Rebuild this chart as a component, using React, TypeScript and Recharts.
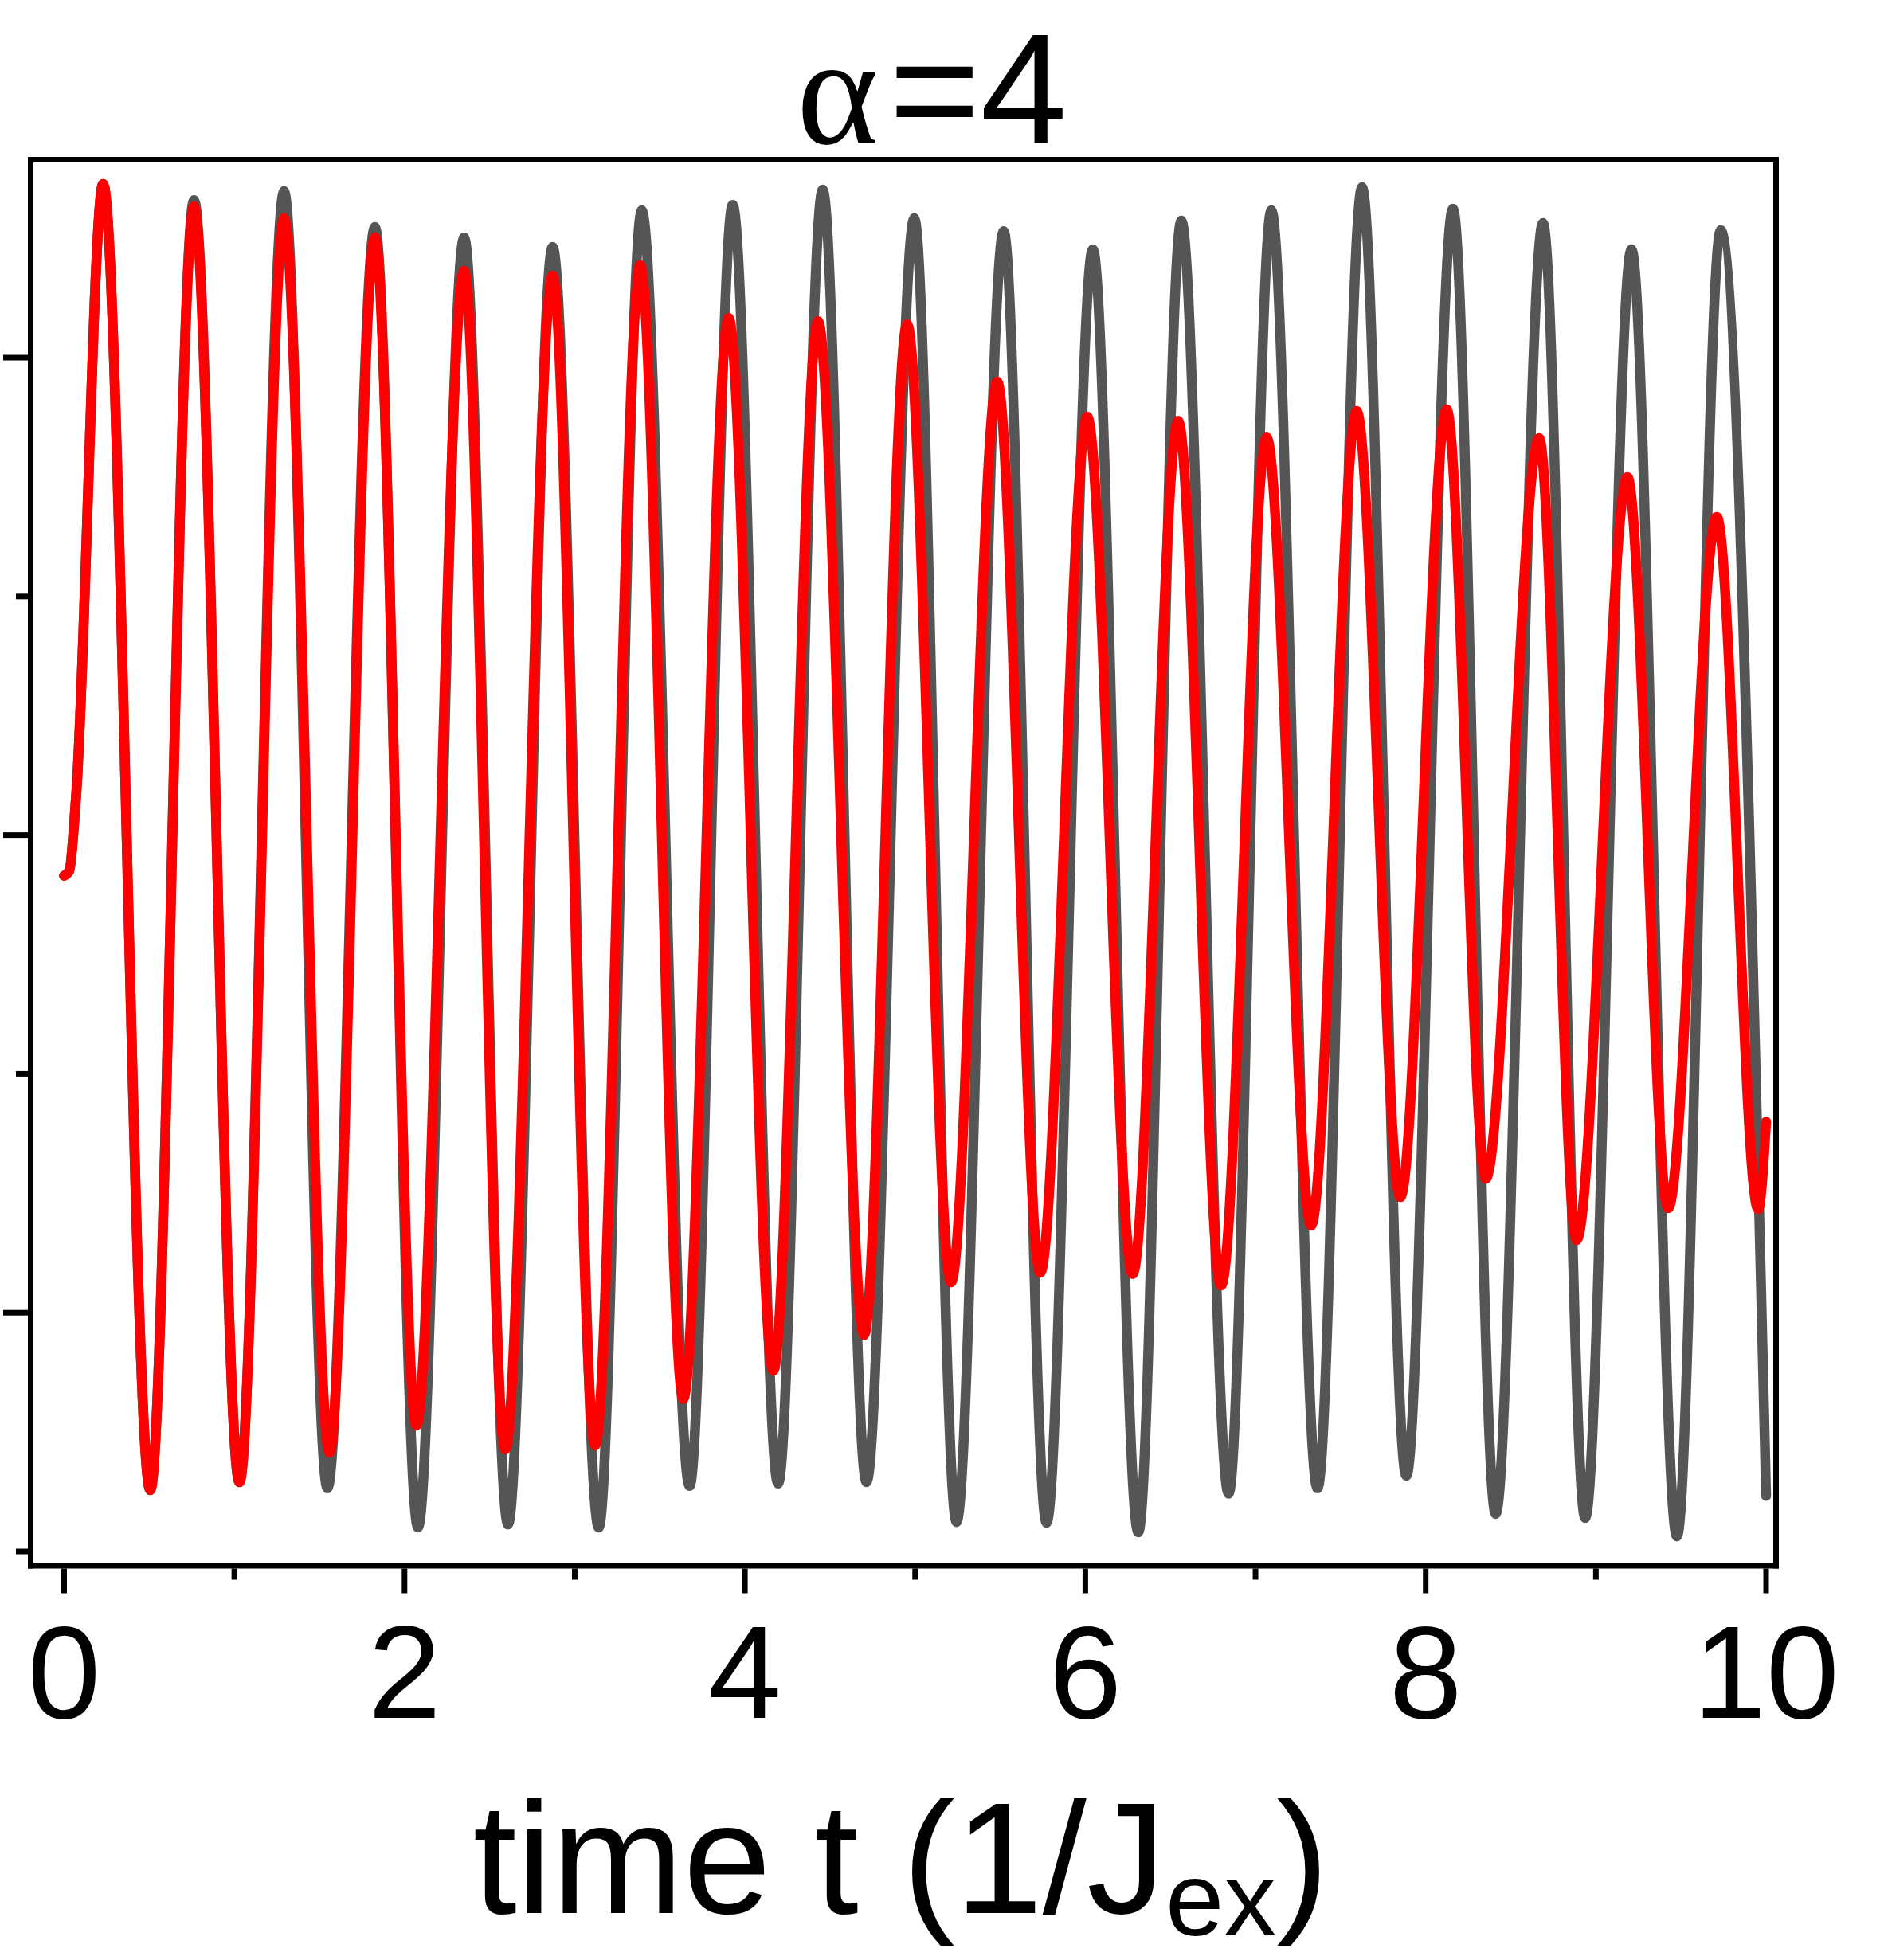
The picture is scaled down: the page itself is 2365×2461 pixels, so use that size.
import { Line, LineChart, XAxis, YAxis } from "recharts";

// shared start of both curves (they coincide until the first peak)
const startTimes = [0, 0.03, 0.07];
const startValues = [2.83, 2.85, 3.16];

// gray curve: alternating peaks / troughs
const grayTimes = [
  0.229, 0.506, 0.763, 1.03, 1.292, 1.547, 1.826, 2.079, 2.35, 2.608, 2.87, 3.141,
  3.394, 3.675, 3.928, 4.195, 4.457, 4.714, 4.995, 5.243, 5.52, 5.772, 6.044, 6.311,
  6.564, 6.842, 7.093, 7.364, 7.626, 7.886, 8.16, 8.411, 8.689, 8.937, 9.209, 9.476,
  9.733, 10.0,
];
const grayValues = [
  5.727, 0.257, 5.66, 0.29, 5.697, 0.264, 5.547, 0.1, 5.504, 0.113, 5.464, 0.1,
  5.617, 0.274, 5.64, 0.284, 5.704, 0.29, 5.584, 0.123, 5.53, 0.12, 5.454, 0.08,
  5.574, 0.242, 5.617, 0.264, 5.714, 0.317, 5.624, 0.157, 5.564, 0.14, 5.454, 0.063,
  5.534, 0.233,
];

// red curve
const redTimes = [
  0.229, 0.506, 0.763, 1.03, 1.292, 1.559, 1.826, 2.069, 2.35, 2.591, 2.87, 3.12,
  3.385, 3.638, 3.904, 4.167, 4.429, 4.7, 4.953, 5.211, 5.482, 5.735, 6.011, 6.278,
  6.545, 6.798, 7.065, 7.327, 7.594, 7.851, 8.123, 8.352, 8.666, 8.886, 9.185, 9.424,
  9.71, 9.953, 10.0,
];
const redValues = [
  5.727, 0.257, 5.634, 0.29, 5.584, 0.414, 5.504, 0.527, 5.364, 0.427, 5.344, 0.444,
  5.387, 0.639, 5.167, 0.757, 5.153, 0.907, 5.14, 1.127, 4.9, 1.167, 4.753, 1.162,
  4.736, 1.114, 4.666, 1.366, 4.777, 1.484, 4.783, 1.561, 4.663, 1.304, 4.5, 1.438,
  4.333, 1.434, 1.8,
];

const xTicks = [0, 1, 2, 3, 4, 5, 6, 7, 8, 9, 10];
const xLabelTicks = [0, 2, 4, 6, 8, 10];
const yTicks = [0, 1, 2, 3, 4, 5];
const yMajorTicks = [1, 3, 5];

const toPoints = (ts: number[], vs: number[]) => ts.map((t, i) => ({ t, v: vs[i] }));

const grayData = toPoints([...startTimes, ...grayTimes], [...startValues, ...grayValues]);
const redData = toPoints([...startTimes, ...redTimes], [...startValues, ...redValues]);

const SANS = "'Liberation Sans', Arial, sans-serif";
const AXIS = { stroke: "#000", strokeWidth: 7, strokeLinecap: "square" as const };

function XTick(props: any) {
  const { x, y, payload } = props;
  const major = xLabelTicks.includes(payload.value);
  return (
    <g>
      <line x1={x} x2={x} y1={y + 3.5} y2={y + 3.5 + (major ? 31 : 14)} stroke="#000" strokeWidth={7} />
      {major ? (
        <text x={x} y={y + 191} textAnchor="middle" fontSize={165} fontFamily={SANS} fill="#000">
          {payload.value}
        </text>
      ) : null}
    </g>
  );
}

function YTick(props: any) {
  const { x, y, payload } = props;
  const major = yMajorTicks.includes(payload.value);
  return (
    <line x1={x - 3.5} x2={x - 3.5 - (major ? 31 : 15)} y1={y} y2={y} stroke="#000" strokeWidth={7} />
  );
}

export default function App() {
  return (
    <div style={{ position: "absolute", left: 0, top: 0, background: "#fff" }}>
      <LineChart
        width={2365}
        height={2461}
        margin={{ top: 199.5, right: 134.5, bottom: 494, left: 37.5 }}
      >
        <XAxis
          xAxisId="bottom"
          type="number"
          dataKey="t"
          domain={[-0.1966, 10.0585]}
          allowDataOverflow
          ticks={xTicks}
          interval={0}
          height={1}
          tickSize={0}
          tickMargin={0}
          tickLine={false}
          axisLine={AXIS}
          tick={<XTick />}
        />
        <XAxis
          xAxisId="top"
          orientation="top"
          type="number"
          dataKey="t"
          domain={[-0.1966, 10.0585]}
          allowDataOverflow
          height={1}
          tick={false}
          tickLine={false}
          axisLine={AXIS}
        />
        <YAxis
          yAxisId="left"
          type="number"
          domain={[-0.06, 5.829]}
          allowDataOverflow
          ticks={yTicks}
          interval={0}
          width={1}
          tickSize={0}
          tickMargin={0}
          tickLine={false}
          axisLine={AXIS}
          tick={<YTick />}
        />
        <YAxis
          yAxisId="right"
          orientation="right"
          type="number"
          domain={[-0.06, 5.829]}
          allowDataOverflow
          width={1}
          tick={false}
          tickLine={false}
          axisLine={AXIS}
        />
        <Line
          xAxisId="bottom"
          yAxisId="left"
          data={grayData}
          dataKey="v"
          type="monotone"
          stroke="#555555"
          strokeWidth={12.5}
          strokeLinecap="round"
          strokeLinejoin="round"
          dot={false}
          activeDot={false}
          isAnimationActive={false}
        />
        <Line
          xAxisId="bottom"
          yAxisId="left"
          data={redData}
          dataKey="v"
          type="monotone"
          stroke="#ff0000"
          strokeWidth={12.5}
          strokeLinecap="round"
          strokeLinejoin="round"
          dot={false}
          activeDot={false}
          isAnimationActive={false}
        />
        <text y={180} fill="#000">
          <tspan x={1000} fontSize={196} fontFamily="'Liberation Serif', 'Times New Roman', serif">
            α
          </tspan>
          <tspan x={1116} fontSize={196} fontFamily={SANS}>
            =4
          </tspan>
        </text>
        <text x={1131} y={2402} textAnchor="middle" fontSize={198} fontFamily={SANS} fill="#000">
          time t (1/J
          <tspan fontSize={132} dy={28}>
            ex
          </tspan>
          <tspan fontSize={198} dy={-28}>
            )
          </tspan>
        </text>
      </LineChart>
    </div>
  );
}
